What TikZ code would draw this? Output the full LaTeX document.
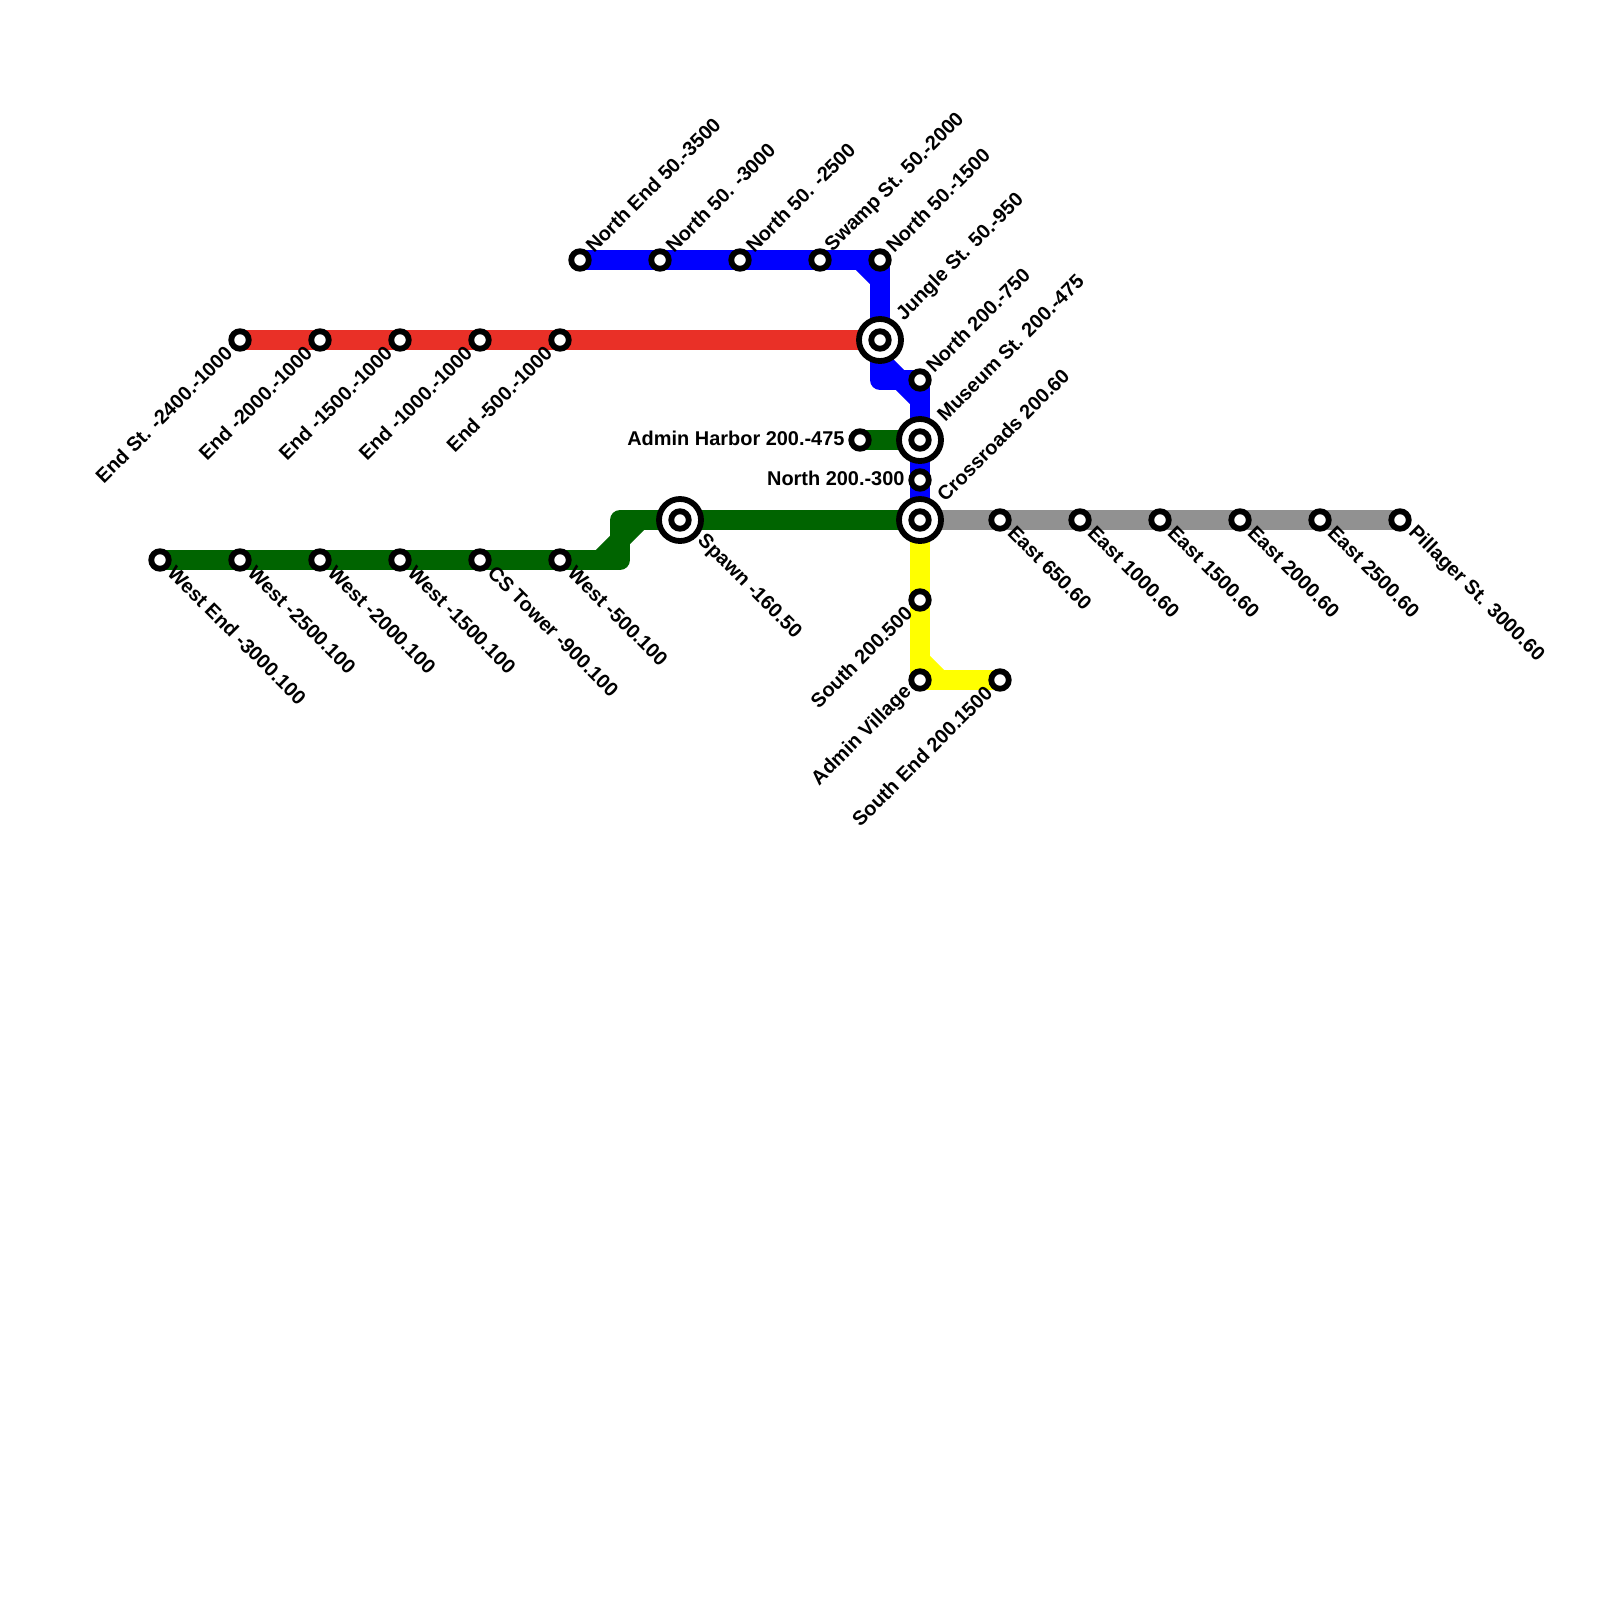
\documentclass[tikz,border=0pt]{standalone}
\usepackage{fontspec}
\setmainfont{Liberation Sans}
\usepackage{tikz}
\definecolor{LineRed}{HTML}{E93027}
\definecolor{LineBlue}{HTML}{0000FF}
\definecolor{LineGreen}{HTML}{006400}
\definecolor{LineGrey}{HTML}{919191}
\definecolor{LineYellow}{HTML}{FFFF00}
\tikzset{
    track/.style={line width=0.2cm, line join=round},
    stn/.style={circle, draw=black, fill=white, line width=0.058cm, inner sep=0pt, minimum size=0.175cm},
    hub/.style={circle, draw=black, fill=white, line width=0.058cm, inner sep=0pt, minimum size=0.42cm, label={[stn]center:{}}},
    lbl/.style={font=\bfseries\fontsize{5.67pt}{6pt}\selectfont, inner ysep=0pt, yshift=0.55pt},
    lblne/.style={lbl, rotate=45, anchor=west, inner xsep=#1},
    lblne/.default=3.5pt,
    lblse/.style={lbl, rotate=-45, anchor=west, inner xsep=#1},
    lblse/.default=4.4pt,
    lblsw/.style={lbl, rotate=45, anchor=east, inner xsep=4.4pt},
    lblw/.style={lbl, anchor=east, inner xsep=#1},
    lblw/.default=4.2pt
}

\begin{document}
\begin{tikzpicture}[x=0.01cm, y=-0.01cm]
    \useasboundingbox (0,0) rectangle (1600,1600);

    % Points where the tracks bend
    \coordinate (bend1) at (880,360);
    \coordinate (bend2) at (920,400);
    \coordinate (bend3) at (860,260);
    \coordinate (bend4) at (880,280);
    \coordinate (bend5) at (600,560);
    \coordinate (bend6) at (640,520);
    \coordinate (bend7) at (920,660);
    \coordinate (bend8) at (940,680);
    \coordinate (cornerA) at (880,380);
    \coordinate (cornerB) at (620,560);
    \coordinate (cornerC) at (620,520);

    % Red line
    \coordinate (redA) at (240,340);
    \coordinate (jungleC) at (880,340);
    \draw[track, LineRed] (redA) -- (jungleC);

    % Green line
    \coordinate (greenA) at (160,560);
    \coordinate (crossC) at (920,520);
    \draw[track, LineGreen] (greenA) -- (cornerB) -- (cornerC) -- (crossC);
    \draw[track, LineGreen] (bend5) -- (bend6);
    \coordinate (harborC) at (860,440);
    \coordinate (museumC) at (920,440);
    \draw[track, LineGreen] (harborC) -- (museumC);

    % Blue line
    \coordinate (blueA) at (580,260);
    \coordinate (blueB) at (880,260);
    \coordinate (blueC) at (920,380);
    \draw[track, LineBlue] (blueA) -- (blueB) -- (jungleC) -- (cornerA) -- (blueC) -- (crossC);
    \draw[track, LineBlue] (bend3) -- (bend4);
    \draw[track, LineBlue] (bend1) -- (bend2);

    % Grey line
    \coordinate (greyB) at (1400,520);
    \draw[track, LineGrey] (crossC) -- (greyB);

    % Yellow line
    \coordinate (yellowB) at (920,680);
    \coordinate (yellowC) at (1000,680);
    \draw[track, LineYellow] (crossC) -- (yellowB) -- (yellowC);
    \draw[track, LineYellow] (bend7) -- (bend8);

    % Blue stations
    \node[stn] (northend) at (blueA) {};
    \node[lblne] (northendL) at (northend) {North End 50.-3500};
    \node[stn] (northA) at (660,260) {};
    \node[lblne] (northAL) at (northA) {North 50. -3000};
    \node[stn] (northB) at (740,260) {};
    \node[lblne] (northBL) at (northB) {North 50. -2500};
    \node[stn] (swamp) at (820,260) {};
    \node[lblne] (swampL) at (swamp) {Swamp St. 50.-2000};
    \node[stn] (northC) at (blueB) {};
    \node[lblne] (northCL) at (northC) {North 50.-1500};
    \node[hub] (jungle) at (jungleC) {};
    \node[lblne=8pt] (jungleL) at (jungle) {Jungle St. 50.-950};
    \node[stn] (northD) at (blueC) {};
    \node[lblne] (northDL) at (northD) {North 200.-750};
    \node[hub] (museum) at (museumC) {};
    \node[lblne=8pt] (museumL) at (museum) {Museum St. 200.-475};
    \node[stn] (northE) at (920,480) {};
    \node[lblw] (northEL) at (northE) {North 200.-300};
    \node[stn] (harbor) at (harborC) {};
    \node[lblw] (harborL) at (harbor) {Admin Harbor 200.-475};

    % Red stations
    \node[stn] (endA) at (redA) {};
    \node[lblsw] (endAL) at (endA) {End St. -2400.-1000};
    \node[stn] (endB) at (320,340) {};
    \node[lblsw] (endBL) at (endB) {End -2000.-1000};
    \node[stn] (endC) at (400,340) {};
    \node[lblsw] (endCL) at (endC) {End -1500.-1000};
    \node[stn] (endD) at (480,340) {};
    \node[lblsw] (endDL) at (endD) {End -1000.-1000};
    \node[stn] (endE) at (560,340) {};
    \node[lblsw] (endEL) at (endE) {End -500.-1000};

    % Green stations
    \node[stn] (westend) at (greenA) {};
    \node[lblse] (westendL) at (westend) {West End -3000.100};
    \node[stn] (westA) at (240,560) {};
    \node[lblse] (westAL) at (westA) {West -2500.100};
    \node[stn] (westB) at (320,560) {};
    \node[lblse] (westBL) at (westB) {West -2000.100};
    \node[stn] (westC) at (400,560) {};
    \node[lblse] (westCL) at (westC) {West -1500.100};
    \node[stn] (cstower) at (480,560) {};
    \node[lblse] (cstowerL) at (cstower) {CS Tower -900.100};
    \node[stn] (westD) at (560,560) {};
    \node[lblse] (westDL) at (westD) {West -500.100};
    \node[hub] (spawn) at (680,520) {};
    \node[lblse=8pt] (spawnL) at (spawn) {Spawn -160.50};

    % Crossroads and grey stations
    \node[hub] (cross) at (crossC) {};
    \node[lblne=8pt] (crossL) at (cross) {Crossroads 200.60};
    \node[stn] (eastA) at (1000,520) {};
    \node[lblse] (eastAL) at (eastA) {East 650.60};
    \node[stn] (eastB) at (1080,520) {};
    \node[lblse] (eastBL) at (eastB) {East 1000.60};
    \node[stn] (eastC) at (1160,520) {};
    \node[lblse] (eastCL) at (eastC) {East 1500.60};
    \node[stn] (eastD) at (1240,520) {};
    \node[lblse] (eastDL) at (eastD) {East 2000.60};
    \node[stn] (eastE) at (1320,520) {};
    \node[lblse] (eastEL) at (eastE) {East 2500.60};
    \node[stn] (pillager) at (greyB) {};
    \node[lblse] (pillagerL) at (pillager) {Pillager St. 3000.60};

    % Yellow stations
    \node[stn] (southA) at (920,600) {};
    \node[lblsw] (southAL) at (southA) {South 200.500};
    \node[stn] (village) at (yellowB) {};
    \node[lblsw] (villageL) at (village) {Admin Village};
    \node[stn] (southend) at (yellowC) {};
    \node[lblsw] (southendL) at (southend) {South End 200.1500};

\end{tikzpicture}
\end{document}
